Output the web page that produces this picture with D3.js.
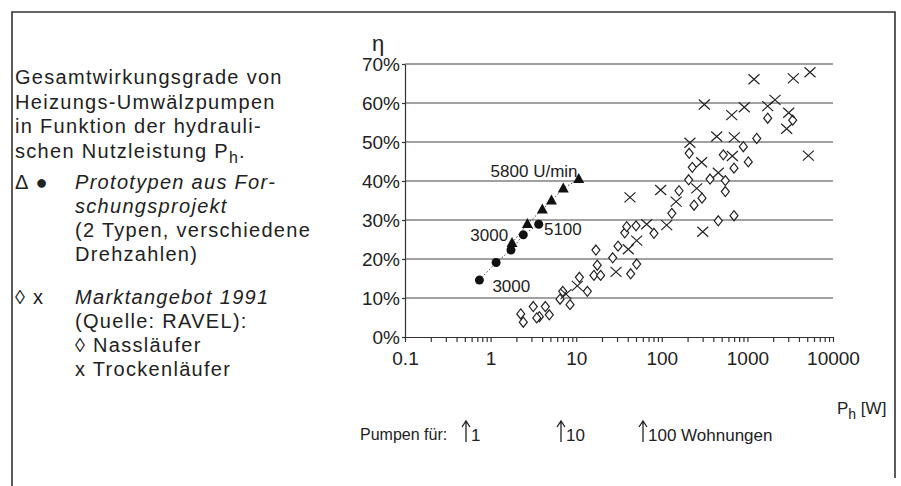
<!DOCTYPE html>
<html>
<head>
<meta charset="utf-8">
<script src="https://cdn.jsdelivr.net/npm/d3@7"></script>
<style>
  html, body { margin: 0; padding: 0; background: #fff; }
  svg { display: block; font-family: "Liberation Sans", Arial, Helvetica, sans-serif; }
  .txt { fill: #222; }
  .axis path, .axis line { stroke: #333; stroke-width: 1.2; }
  .axis text { fill: #222; font-size: 19px; }
  .grid { stroke: #444; stroke-width: 1.2; }
</style>
</head>
<body>
<div id="chart"></div>
<script>
// Prototypen aus Forschungsprojekt: [P_h in W, eta in %]
var protoTriangles = [[1.78, 24.1], [2.69, 29.0], [4.02, 32.7], [5.14, 35.0], [7.06, 38.1], [10.7, 40.5]];
var protoCircles = [[0.74, 14.6], [1.16, 19.1], [1.73, 22.3], [2.41, 26.2], [3.65, 28.9]];

// Marktangebot 1991, Nasslaeufer (diamonds)
var nassDiamonds = [
  [2.25, 5.9], [2.41, 3.8], [3.15, 7.8], [3.71, 5.2], [3.46, 4.9], [4.36, 7.8], [4.85, 5.7],
  [6.47, 9.7], [6.96, 11.7], [8.47, 8.3], [10.9, 15.3], [13.5, 11.7], [16.1, 15.8], [17.0, 22.3],
  [17.6, 18.4], [19.3, 15.8], [26.7, 20.3], [30.8, 23.3], [43.3, 16.2], [50.9, 18.7], [36.9, 26.7],
  [38.9, 28.3], [50, 28.5], [81, 26.6], [131, 31.7], [238, 33.8], [457, 29.8], [697, 31.1],
  [1726, 56.1], [1285, 50.9], [896, 48.8], [209, 47.1], [523, 46.7], [227, 43.5], [1024, 44.9],
  [697, 43.3], [206, 40.3], [366, 40.5], [552, 40.1], [552, 37.3], [295, 35.6], [159, 37.5],
  [3381, 55.6]
];

// Marktangebot 1991, Trockenlaeufer (crosses)
var trockenCrosses = [
  [7.6, 11.0], [10.3, 13.1], [29.2, 16.7], [40.6, 22.5], [50.9, 24.7], [66.6, 28.9], [114, 28.7],
  [147, 34.7], [42.5, 35.8], [97, 37.7], [1194, 66.1], [3437, 66.3], [5386, 67.9], [314, 59.6],
  [920, 58.9], [2101, 60.8], [1726, 59.2], [656, 56.9], [3037, 57.5], [2877, 53.4], [213, 49.8],
  [438, 51.4], [703, 51.2], [5150, 46.5], [292, 44.8], [667, 46.4], [457, 42.1], [256, 38.1],
  [301, 27.0]
];

var xTickLabels = [0.1, 1, 10, 100, 1000, 10000];
var yTicks = [0, 10, 20, 30, 40, 50, 60, 70];

var speedLabels = [
  {text: '5800 U/min', at: [1.0, 41.0]},
  {text: '3000', at: [0.58, 24.5]},
  {text: '5100', at: [4.2, 26.2]},
  {text: '3000', at: [1.05, 11.5]}
];

var W = 901, H = 486;
var svg = d3.select('#chart').append('svg').attr('width', W).attr('height', H);

// frame (top, left, right)
svg.append('path')
    .attr('d', 'M12,486 L12,12 L895,12 L895,478')
    .attr('fill', 'none').attr('stroke', '#333').attr('stroke-width', 1.6);

var x = d3.scaleLog().domain([0.1, 10000]).range([405, 833]);
var y = d3.scaleLinear().domain([0, 70]).range([337, 64]);

// gridlines
svg.selectAll('.grid').data(yTicks.slice(1)).enter().append('line')
    .attr('class', 'grid')
    .attr('x1', x(0.1)).attr('x2', x(10000))
    .attr('y1', function (d) { return y(d); })
    .attr('y2', function (d) { return y(d); });

// x axis with minor ticks
var allTicks = [];
xTickLabels.forEach(function (d, i) {
  if (i === xTickLabels.length - 1) { allTicks.push(d); return; }
  for (var k = 1; k < 10; k++) { allTicks.push(d * k); }
});
svg.append('g').attr('class', 'axis')
    .attr('transform', 'translate(0,' + y(0) + ')')
    .call(d3.axisBottom(x).tickValues(allTicks).tickSize(5).tickSizeOuter(0).tickPadding(10)
      .tickFormat(function (d) {
        return xTickLabels.some(function (t) { return Math.abs(t - d) < 1e-9; }) ? String(d) : '';
      }));

// y axis
svg.append('g').attr('class', 'axis')
    .attr('transform', 'translate(' + x(0.1) + ',0)')
    .call(d3.axisLeft(y).tickValues(yTicks).tickSize(3).tickSizeOuter(0).tickPadding(2)
      .tickFormat(function (d) { return d + '%'; }));

svg.append('text').attr('class', 'txt')
    .attr('x', 372).attr('y', 51).attr('font-size', 22).text('η');

// dotted connection lines for prototypes
var line = d3.line().x(function (d) { return x(d[0]); }).y(function (d) { return y(d[1]); });
[protoTriangles, protoCircles].forEach(function (s) {
  svg.append('path').attr('d', line(s))
      .attr('fill', 'none').attr('stroke', '#444').attr('stroke-width', 1)
      .attr('stroke-dasharray', '1.5,2');
});

// market data
svg.selectAll('.nass').data(nassDiamonds).enter().append('path')
    .attr('class', 'nass')
    .attr('transform', function (d) { return 'translate(' + x(d[0]) + ',' + y(d[1]) + ')'; })
    .attr('d', 'M0,-5 L4,0 L0,5 L-4,0 Z')
    .attr('fill', '#fff').attr('stroke', '#222').attr('stroke-width', 1.2);

svg.selectAll('.trocken').data(trockenCrosses).enter().append('path')
    .attr('class', 'trocken')
    .attr('transform', function (d) { return 'translate(' + x(d[0]) + ',' + y(d[1]) + ')'; })
    .attr('d', 'M-5.5,-5 L5.5,5 M-5.5,5 L5.5,-5')
    .attr('fill', 'none').attr('stroke', '#222').attr('stroke-width', 1.2);

// prototypes
svg.selectAll('.tri').data(protoTriangles).enter().append('path')
    .attr('class', 'tri')
    .attr('transform', function (d) { return 'translate(' + x(d[0]) + ',' + y(d[1]) + ')'; })
    .attr('d', 'M0,-6 L5.5,4 L-5.5,4 Z')
    .attr('fill', '#111');

svg.selectAll('.dot').data(protoCircles).enter().append('circle')
    .attr('class', 'dot')
    .attr('cx', function (d) { return x(d[0]); })
    .attr('cy', function (d) { return y(d[1]); })
    .attr('r', 4.5).attr('fill', '#111');

svg.selectAll('.speed').data(speedLabels).enter().append('text')
    .attr('class', 'txt')
    .attr('x', function (d) { return x(d.at[0]); })
    .attr('y', function (d) { return y(d.at[1]); })
    .attr('font-size', 17)
    .text(function (d) { return d.text; });

// description block on the left
var desc = svg.append('g').attr('font-size', 20).attr('letter-spacing', 1.3).attr('class', 'txt');
function addLine(tx, ty, parts) {
  var t = desc.append('text').attr('x', tx).attr('y', ty);
  parts.forEach(function (p) {
    var s = t.append('tspan').text(p.t);
    if (p.i) { s.attr('font-style', 'italic'); }
    if (p.sub) { s.attr('font-size', 16).attr('dy', 5); }
    if (p.up) { s.attr('dy', -5); }
  });
}
addLine(15, 84, [{t: 'Gesamtwirkungsgrade von'}]);
addLine(15, 108.5, [{t: 'Heizungs-Umwälzpumpen'}]);
addLine(15, 133, [{t: 'in Funktion der hydrauli-'}]);
addLine(15, 157.5, [{t: 'schen Nutzleistung P'}, {t: 'h', sub: true}, {t: '.', up: true}]);
addLine(15, 189, [{t: 'Δ ●'}]);
addLine(75, 189, [{t: 'Prototypen aus For-', i: true}]);
addLine(75, 213, [{t: 'schungsprojekt', i: true}]);
addLine(75, 237, [{t: '(2 Typen, verschiedene'}]);
addLine(75, 261, [{t: 'Drehzahlen)'}]);
addLine(15, 304, [{t: '◊ x'}]);
addLine(75, 304, [{t: 'Marktangebot 1991', i: true}]);
addLine(75, 328, [{t: '(Quelle: RAVEL):'}]);
addLine(75, 352, [{t: '◊  Nassläufer'}]);
addLine(75, 376, [{t: 'x  Trockenläufer'}]);

// x axis title
var xt = svg.append('text').attr('class', 'txt').attr('x', 837).attr('y', 414).attr('font-size', 17);
xt.append('tspan').text('P');
xt.append('tspan').attr('font-size', 14).attr('dy', 5).text('h');
xt.append('tspan').attr('dy', -5).text(' [W]');

// pumps for n dwellings
svg.append('text').attr('class', 'txt').attr('x', 360).attr('y', 440).attr('font-size', 16).text('Pumpen für:');
var arrows = [{x: 466, t: '1'}, {x: 561, t: '10'}, {x: 643, t: '100 Wohnungen'}];
arrows.forEach(function (a) {
  svg.append('path')
      .attr('d', 'M' + a.x + ',442 L' + a.x + ',421 M' + (a.x - 4) + ',427 L' + a.x + ',421 L' + (a.x + 4) + ',427')
      .attr('fill', 'none').attr('stroke', '#222').attr('stroke-width', 1.3);
  svg.append('text').attr('class', 'txt').attr('x', a.x + 5).attr('y', 441).attr('font-size', 17).text(a.t);
});
</script>
</body>
</html>
